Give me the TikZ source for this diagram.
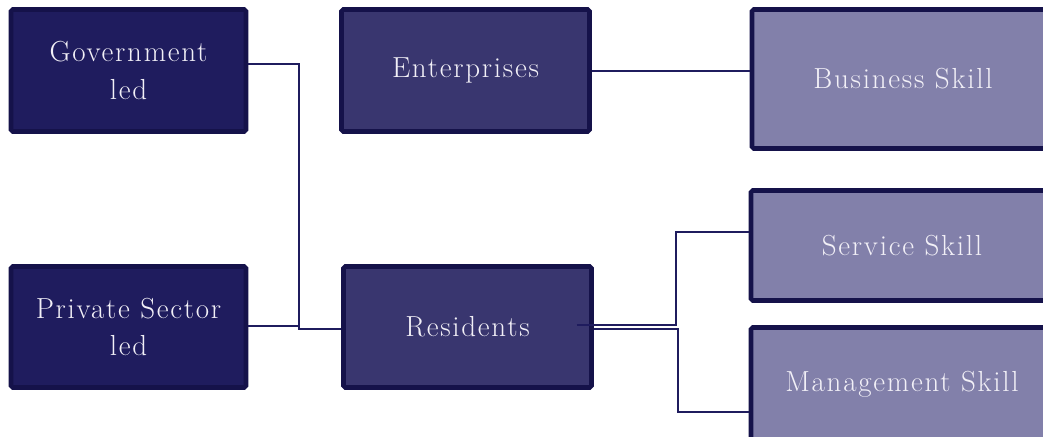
\documentclass[tikz,border=0pt]{standalone}
\usepackage{amsmath}
\usepackage{fontspec}
\setmainfont{Latin Modern Roman}[LetterSpace=6]
\usepackage{tikz}
\usepackage{xcolor}
\usetikzlibrary{calc}

\definecolor{deepnavy}{HTML}{1F1C5E}
\definecolor{midnavy}{HTML}{39366F}
\definecolor{lavender}{HTML}{8280AA}
\definecolor{rimnavy}{HTML}{15124A}
\definecolor{paletext}{HTML}{F2F0F7}

\begin{document}
\begin{tikzpicture}[x=0.2mm,y=-0.2mm]
\useasboundingbox (0,0) rectangle (1043,437);
\clip (0,0) rectangle (1043,437);
\begin{scope}[every node/.style={rectangle,draw=rimnavy,line width=2.6pt,rounded corners=1pt,
  text=paletext,align=center,font=\fontsize{16.5}{21.5}\selectfont}]
\node[fill=deepnavy,minimum width=47mm,minimum height=24.4mm] (gov) at (128.5,70.5) {Government\\led};
\node[fill=midnavy,minimum width=49.6mm,minimum height=24.4mm] (ent) at (465.5,70.5) {Enterprises};
\node[fill=lavender,minimum width=60.4mm,minimum height=27.8mm] (bus) at (903,79) {Business Skill};

\node[fill=deepnavy,minimum width=47mm,minimum height=24.2mm] (priv) at (128.5,327) {Private Sector\\led};
\node[fill=midnavy,minimum width=49.6mm,minimum height=24.2mm] (res) at (467.5,327) {Residents};
\node[fill=lavender,minimum width=60.4mm,minimum height=22mm] (svc) at (902,245.5) {Service Skill};
\node[fill=lavender,minimum width=60.4mm,minimum height=22.6mm] (mgmt) at (902,384) {Management Skill};
\end{scope}

\draw[line width=0.8pt, deepnavy] (gov.east |- 0,64) -| (299,329) -- (res.west |- 0,329);
\draw[line width=0.8pt, deepnavy] (priv.east |- 0,326) -- (299,326);
\draw[line width=0.8pt, deepnavy] (ent.east |- 0,71) -- (bus.west |- 0,71);

\draw[line width=0.8pt, deepnavy] ($(res.east)+(-17,-2)$) -- (676,325) |- (svc.west |- 0,232);
\draw[line width=0.8pt, deepnavy] (res.east |- 0,329) -- (678,329) |- (mgmt.west |- 0,412);
\end{tikzpicture}
\end{document}
